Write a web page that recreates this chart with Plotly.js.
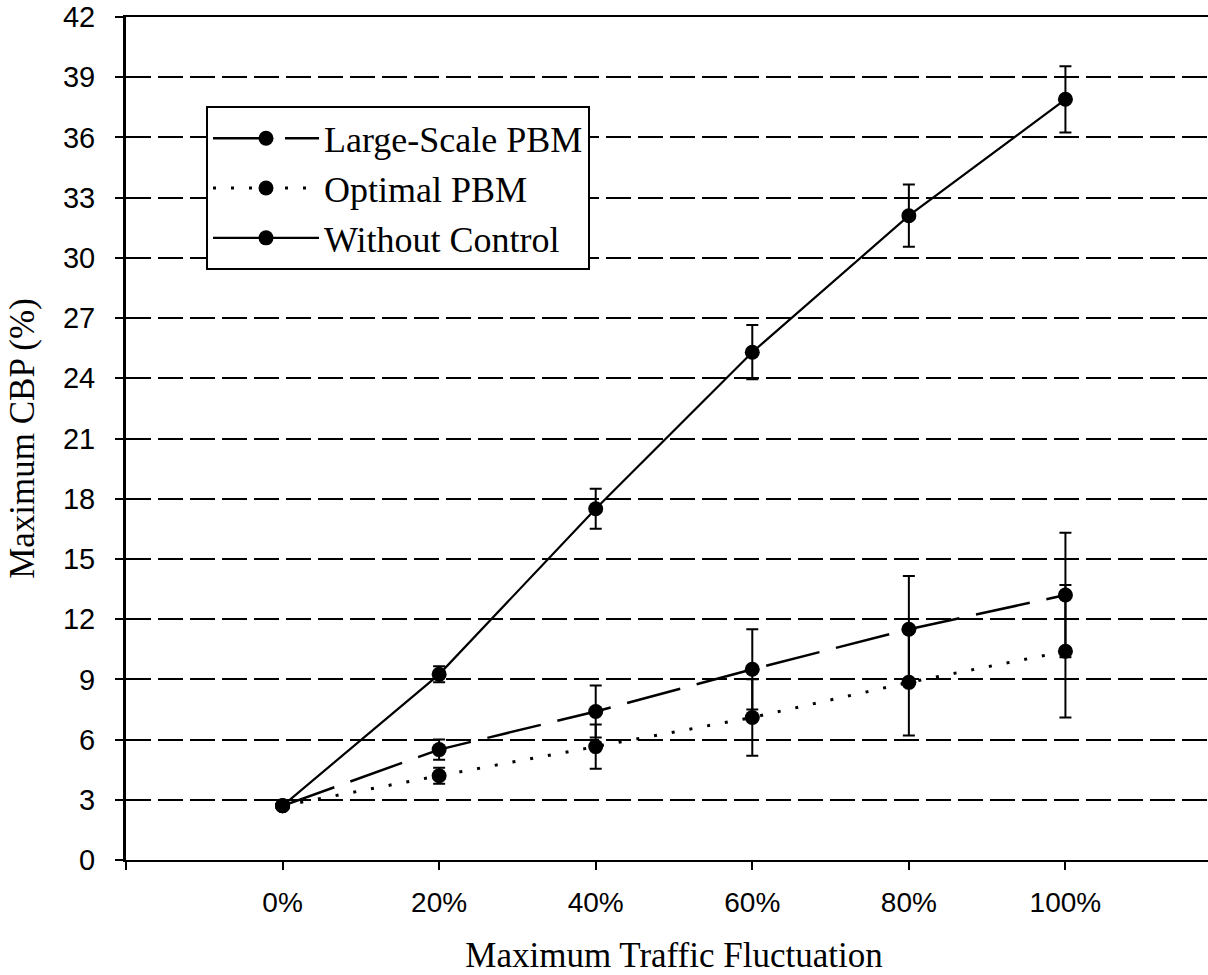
<!DOCTYPE html>
<html>
<head>
<meta charset="utf-8">
<script src="https://cdn.plot.ly/plotly-3.0.1.min.js"></script>
<style>
html, body { margin: 0; padding: 0; overflow: hidden; background: #fff; }
#chart { width: 1232px; height: 975px; }
</style>
</head>
<body>
<div id="chart"></div>
<script>
// Data
const fluctuation = [0, 20, 40, 60, 80, 100];
const tickValues = [-20, 0, 20, 40, 60, 80, 100, 120];
const tickLabels = ["", "0%", "20%", "40%", "60%", "80%", "100%", ""];

const largeScalePBM = [2.7, 5.5, 7.4, 9.5, 11.5, 13.2];
const largeScaleErr = [0, 0.5, 1.3, 2.0, 2.65, 3.1];

const optimalPBM = [2.7, 4.2, 5.65, 7.1, 8.85, 10.4];
const optimalErr = [0, 0.4, 1.1, 1.9, 2.65, 3.3];

const withoutControl = [2.7, 9.25, 17.5, 25.3, 32.1, 37.9];
const withoutControlErr = [0, 0.4, 1.0, 1.35, 1.55, 1.65];

const seriesNames = ["Large-Scale PBM", "Optimal PBM", "Without Control"];

function errBar(arr) {
  return { type: 'data', array: arr, visible: true, color: '#000', thickness: 2, width: 6 };
}
const marker = { symbol: 'circle', size: 15, color: '#000' };

const traces = [
  {
    x: fluctuation, y: largeScalePBM, name: seriesNames[0], type: 'scatter', mode: 'lines+markers',
    line: { color: '#000', width: 2.5, dash: '55px,17px' }, marker: marker, error_y: errBar(largeScaleErr)
  },
  {
    x: fluctuation, y: optimalPBM, name: seriesNames[1], type: 'scatter', mode: 'lines+markers',
    line: { color: '#000', width: 3, dash: '3px,15px' }, marker: marker, error_y: errBar(optimalErr)
  },
  {
    x: fluctuation, y: withoutControl, name: seriesNames[2], type: 'scatter', mode: 'lines+markers',
    line: { color: '#000', width: 2.2 }, marker: marker, error_y: errBar(withoutControlErr)
  }
];

const layout = {
  width: 1232,
  height: 975,
  margin: { l: 126, r: 10, t: 17, b: 115, pad: 0 },
  paper_bgcolor: '#fff',
  plot_bgcolor: '#fff',
  showlegend: true,
  legend: {
    x: 0.073, y: 0.894, xanchor: 'left', yanchor: 'top',
    bgcolor: '#fff', bordercolor: '#000', borderwidth: 2,
    font: { family: 'Liberation Serif, Times New Roman, serif', size: 36, color: '#000' },
    itemwidth: 106,
    traceorder: 'normal'
  },
  xaxis: {
    range: [-20, 120],
    tickmode: 'array', tickvals: tickValues, ticktext: tickLabels,
    ticks: 'outside', ticklen: 8, tickwidth: 2, tickcolor: '#000',
    ticklabelstandoff: 8,
    showline: true, linecolor: '#000', linewidth: 2, mirror: true,
    showgrid: false, zeroline: false,
    tickfont: { family: 'Liberation Sans, Arial, sans-serif', size: 28, color: '#000' },
    title: { text: 'Maximum Traffic Fluctuation', standoff: 28,
      font: { family: 'Liberation Serif, Times New Roman, serif', size: 35, color: '#000' } },
    automargin: false
  },
  yaxis: {
    range: [0, 42],
    tickmode: 'linear', tick0: 0, dtick: 3,
    ticks: 'outside', ticklen: 8, tickwidth: 2, tickcolor: '#000',
    ticklabelstandoff: 14,
    showline: true, linecolor: '#000', linewidth: 3, mirror: false,
    showgrid: true, gridcolor: '#000', gridwidth: 2, griddash: '25px,7px',
    zeroline: false,
    tickfont: { family: 'Liberation Sans, Arial, sans-serif', size: 29, color: '#000' },
    title: { text: 'Maximum CBP (%)', standoff: 18,
      font: { family: 'Liberation Serif, Times New Roman, serif', size: 35, color: '#000' } },
    automargin: false
  }
};

Plotly.newPlot('chart', traces, layout, { displayModeBar: false, staticPlot: true });
</script>
</body>
</html>
